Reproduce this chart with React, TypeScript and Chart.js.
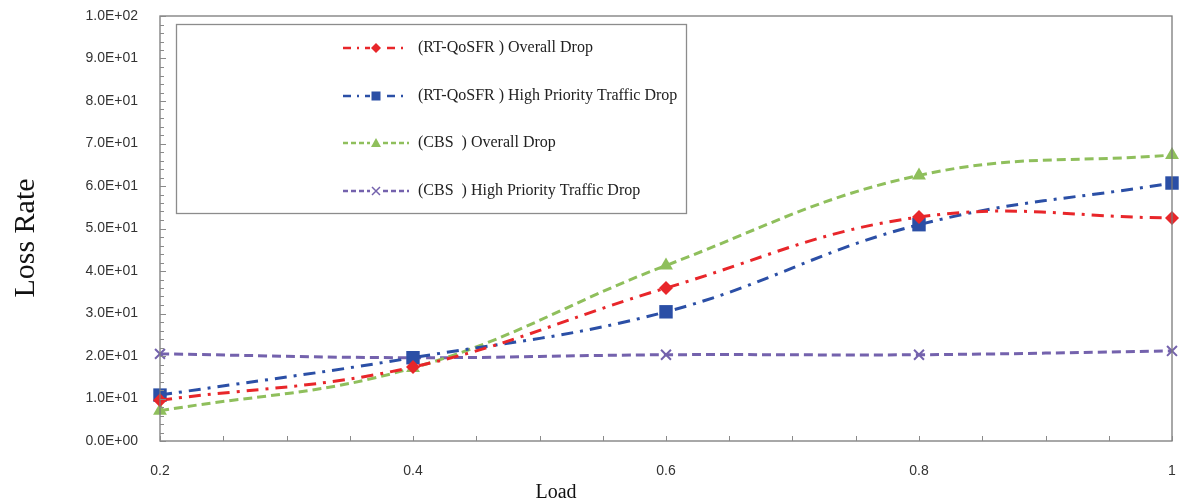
import React, { useEffect, useRef } from "react";
import { Chart, registerables } from "chart.js";

Chart.register(...registerables);

const loads = [0.2, 0.4, 0.6, 0.8, 1.0];
const rtOverall = [9.6, 17.4, 36.0, 52.7, 52.5];
const rtHigh = [10.8, 19.6, 30.4, 50.9, 60.7];
const cbsOverall = [7.1, 17.2, 41.3, 62.5, 67.3];
const cbsHigh = [20.5, 19.6, 20.3, 20.3, 21.2];
const seriesLabels = [
  "(RT-QoSFR ) Overall Drop",
  "(RT-QoSFR ) High Priority Traffic Drop",
  "(CBS  ) Overall Drop",
  "(CBS  ) High Priority Traffic Drop",
];
const xTitle = "Load";
const yTitle = "Loss Rate";

const RED = "#e8262a";
const BLUE = "#2b4fa6";
const GREEN = "#8fbf5c";
const PURPLE = "#7462ad";

function fmtExp(v: number): string {
  if (v === 0) return "0.0E+00";
  const e = Math.floor(Math.log10(Math.abs(v)) + 1e-9);
  const m = v / Math.pow(10, e);
  const sign = e < 0 ? "-" : "+";
  const ee = String(Math.abs(e)).padStart(2, "0");
  return m.toFixed(1) + "E" + sign + ee;
}

const decorPlugin = {
  id: "decor",
  afterDraw(chart: any) {
    const ctx = chart.ctx;
    const ca = chart.chartArea;
    const xs = chart.scales.x;
    const ys = chart.scales.y;
    ctx.save();
    ctx.strokeStyle = "#7a7a7a";
    ctx.lineWidth = 1.3;
    ctx.setLineDash([]);
    ctx.strokeRect(ca.left, ca.top, ca.right - ca.left, ca.bottom - ca.top);
    ctx.strokeStyle = "#8a8a8a";
    ctx.lineWidth = 1;
    for (let v = 0; v <= 100.001; v += 2) {
      const y = Math.round(ys.getPixelForValue(v)) + 0.5;
      const len = Math.round(v) % 10 === 0 ? 6 : 4;
      ctx.beginPath();
      ctx.moveTo(ca.left, y);
      ctx.lineTo(ca.left + len, y);
      ctx.stroke();
    }
    for (let i = 0; i <= 16; i++) {
      const v = 0.2 + i * 0.05;
      const x = Math.round(xs.getPixelForValue(v)) + 0.5;
      ctx.beginPath();
      ctx.moveTo(x, ca.bottom);
      ctx.lineTo(x, ca.bottom - 5);
      ctx.stroke();
    }
    ctx.fillStyle = "#111";
    ctx.font = "20px 'Liberation Serif', serif";
    ctx.textAlign = "center";
    ctx.textBaseline = "middle";
    ctx.fillText(xTitle, 556, 493);
    ctx.save();
    ctx.translate(26, 238);
    ctx.rotate(-Math.PI / 2);
    ctx.font = "30px 'Liberation Serif', serif";
    ctx.fillText(yTitle, 0, 0);
    ctx.restore();

    ctx.fillStyle = "#fff";
    ctx.fillRect(176, 24, 510, 189);
    ctx.strokeStyle = "#8c8c8c";
    ctx.lineWidth = 1.3;
    ctx.strokeRect(176.5, 24.5, 510, 189);
    const rows = [48, 96, 143, 191];
    chart.data.datasets.forEach((ds: any, i: number) => {
      const y = rows[i];
      ctx.strokeStyle = ds.borderColor;
      ctx.lineWidth = 2.5;
      ctx.setLineDash(i < 2 ? [8, 6, 2, 6] : [5, 3]);
      ctx.beginPath();
      ctx.moveTo(343, y);
      ctx.lineTo(409, y);
      ctx.stroke();
      ctx.setLineDash([]);
      const mx = 376;
      ctx.fillStyle = "#fff";
      ctx.fillRect(mx - 6, y - 6, 12, 12);
      ctx.fillStyle = ds.borderColor;
      ctx.strokeStyle = ds.borderColor;
      if (ds.pointStyle === "rectRot") {
        ctx.beginPath();
        ctx.moveTo(mx, y - 5);
        ctx.lineTo(mx + 5, y);
        ctx.lineTo(mx, y + 5);
        ctx.lineTo(mx - 5, y);
        ctx.closePath();
        ctx.fill();
      } else if (ds.pointStyle === "rect") {
        ctx.fillRect(mx - 4.5, y - 4.5, 9, 9);
      } else if (ds.pointStyle === "triangle") {
        ctx.beginPath();
        ctx.moveTo(mx, y - 5);
        ctx.lineTo(mx + 5, y + 4);
        ctx.lineTo(mx - 5, y + 4);
        ctx.closePath();
        ctx.fill();
      } else {
        ctx.lineWidth = 1.5;
        ctx.beginPath();
        ctx.moveTo(mx - 4, y - 4);
        ctx.lineTo(mx + 4, y + 4);
        ctx.moveTo(mx + 4, y - 4);
        ctx.lineTo(mx - 4, y + 4);
        ctx.stroke();
      }
      ctx.fillStyle = "#222";
      ctx.font = "16px 'Liberation Serif', serif";
      ctx.textAlign = "left";
      ctx.textBaseline = "middle";
      ctx.fillText(seriesLabels[i], 418, y);
    });
    ctx.restore();
  },
};

export default function App() {
  const ref = useRef<HTMLCanvasElement | null>(null);
  useEffect(() => {
    if (!ref.current) return;
    const mk = (vals: number[]) => loads.map((x, i) => ({ x, y: vals[i] }));
    const common = { borderWidth: 3, tension: 0.4, clip: false, pointBorderWidth: 0 };
    const chart = new Chart(ref.current, {
      type: "line",
      data: {
        datasets: [
          {
            ...common,
            label: seriesLabels[0],
            data: mk(rtOverall),
            borderColor: RED,
            backgroundColor: RED,
            borderDash: [12, 7, 3, 7],
            pointStyle: "rectRot",
            pointRadius: 7,
          },
          {
            ...common,
            label: seriesLabels[1],
            data: mk(rtHigh),
            borderColor: BLUE,
            backgroundColor: BLUE,
            borderDash: [12, 7, 3, 7],
            pointStyle: "rect",
            pointRadius: 9.5,
          },
          {
            ...common,
            label: seriesLabels[2],
            data: mk(cbsOverall),
            borderColor: GREEN,
            backgroundColor: GREEN,
            borderDash: [9, 5],
            pointStyle: "triangle",
            pointRadius: 8,
          },
          {
            ...common,
            label: seriesLabels[3],
            data: mk(cbsHigh),
            borderColor: PURPLE,
            backgroundColor: PURPLE,
            borderDash: [9, 5],
            pointStyle: "crossRot",
            pointRadius: 7,
            pointBorderWidth: 2,
          },
        ],
      },
      options: {
        animation: false,
        responsive: true,
        maintainAspectRatio: false,
        layout: { padding: { left: 0, top: 16, right: 16, bottom: 0 } },
        plugins: { legend: { display: false }, tooltip: { enabled: false } },
        scales: {
          x: {
            type: "linear",
            min: 0.2,
            max: 1.0,
            grid: { display: false },
            border: { display: false },
            ticks: {
              stepSize: 0.2,
              padding: 14,
              color: "#333",
              font: { family: "'Liberation Sans', sans-serif", size: 14 },
              callback: (v: any) => String(Math.round(Number(v) * 10) / 10),
            },
            afterFit: (s: any) => {
              s.height = 60;
              s.paddingLeft = 0;
              s.paddingRight = 0;
            },
          },
          y: {
            min: 0,
            max: 100,
            grid: { display: false },
            border: { display: false },
            ticks: {
              stepSize: 10,
              padding: 14,
              color: "#333",
              font: { family: "'Liberation Sans', sans-serif", size: 14 },
              callback: (v: any) => fmtExp(Number(v)),
            },
            afterFit: (s: any) => {
              s.width = 160;
              s.paddingTop = 0;
              s.paddingBottom = 0;
            },
          },
        },
      },
      plugins: [decorPlugin],
    } as any);
    return () => chart.destroy();
  }, []);
  return (
    <div style={{ position: "fixed", left: 0, top: 0, width: 1188, height: 501, background: "#fff" }}>
      <canvas ref={ref} />
    </div>
  );
}
